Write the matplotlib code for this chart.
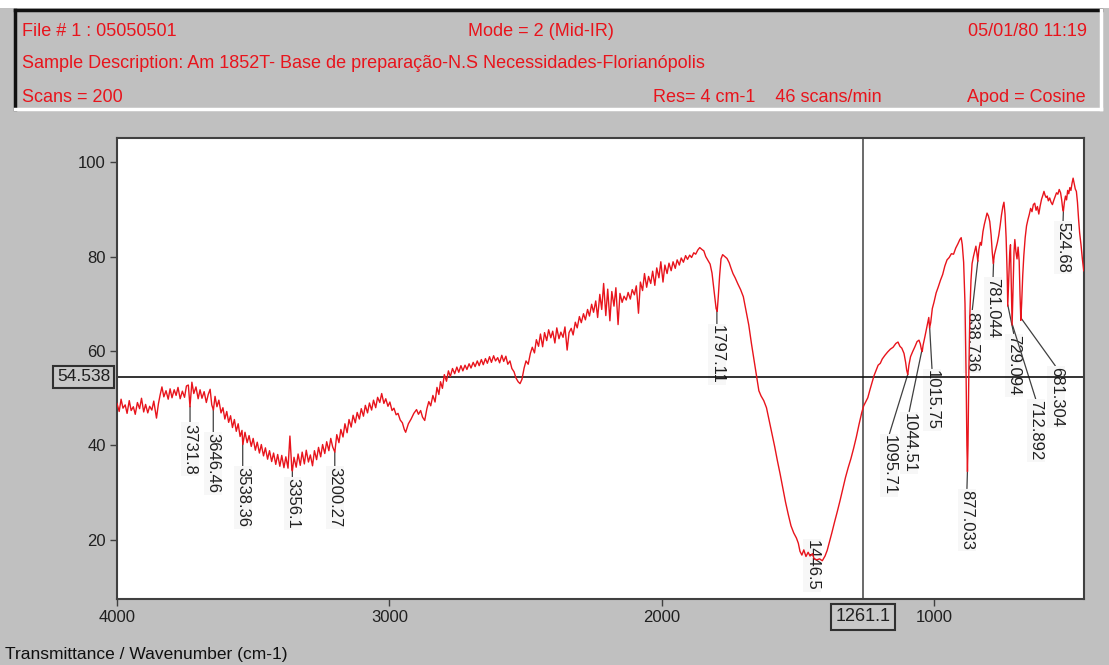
import numpy as np
import matplotlib
matplotlib.use("Agg")
import matplotlib.pyplot as plt
from matplotlib.patches import Rectangle
from matplotlib.lines import Line2D

#==========================================================#
# data                                #
#==========================================================#

wavenumber = [
    4000, 3992, 3985, 3978, 3970, 3963, 3955, 3948, 3940, 3933, 3925, 3917, 3910, 3902, 3895, 3887,
    3880, 3872, 3865, 3855, 3848, 3842, 3835, 3828, 3820, 3812, 3805, 3798, 3790, 3783, 3776, 3768,
    3760, 3752, 3745, 3738, 3732, 3725, 3718, 3710, 3702, 3695, 3688, 3680, 3672, 3665, 3658, 3652,
    3646, 3640, 3633, 3626, 3618, 3611, 3604, 3597, 3590, 3583, 3576, 3569, 3562, 3555, 3548, 3541,
    3538, 3530, 3522, 3515, 3507, 3500, 3492, 3485, 3477, 3470, 3462, 3455, 3447, 3440, 3432, 3425,
    3417, 3410, 3402, 3395, 3387, 3380, 3372, 3365, 3358, 3356, 3350, 3342, 3335, 3327, 3320, 3312,
    3305, 3297, 3290, 3282, 3275, 3267, 3260, 3252, 3245, 3237, 3230, 3222, 3215, 3208, 3200, 3193,
    3185, 3178, 3170, 3163, 3155, 3148, 3140, 3133, 3125, 3118, 3110, 3103, 3095, 3088, 3080, 3073,
    3065, 3058, 3050, 3043, 3035, 3028, 3020, 3013, 3005, 2998, 2990, 2983, 2975, 2968, 2960, 2952,
    2945, 2940, 2930, 2920, 2910, 2900, 2893, 2885, 2878, 2870, 2862, 2855, 2848, 2840, 2832, 2825,
    2818, 2812, 2805, 2798, 2790, 2783, 2776, 2768, 2760, 2752, 2745, 2737, 2730, 2722, 2715, 2707,
    2700, 2692, 2685, 2677, 2670, 2662, 2655, 2647, 2640, 2632, 2625, 2617, 2610, 2602, 2595, 2587,
    2580, 2572, 2565, 2557, 2550, 2542, 2535, 2527, 2520, 2513, 2505, 2498, 2490, 2482, 2475, 2467,
    2460, 2452, 2445, 2437, 2430, 2422, 2415, 2407, 2400, 2392, 2385, 2377, 2370, 2362, 2355, 2347,
    2340, 2332, 2325, 2317, 2310, 2302, 2295, 2287, 2280, 2272, 2265, 2257, 2250, 2242, 2235, 2227,
    2220, 2213, 2205, 2198, 2190, 2183, 2175, 2168, 2160, 2153, 2145, 2138, 2130, 2123, 2115, 2108,
    2100, 2093, 2085, 2078, 2070, 2063, 2055, 2048, 2040, 2033, 2025, 2018, 2010, 2003, 1995, 1988,
    1980, 1973, 1965, 1958, 1950, 1943, 1935, 1928, 1920, 1912, 1905, 1897, 1890, 1882, 1875, 1867,
    1860, 1852, 1845, 1838, 1830, 1822, 1815, 1808, 1800, 1796, 1792, 1787, 1782, 1776, 1768, 1760,
    1752, 1745, 1738, 1730, 1720, 1710, 1700, 1690, 1680, 1670, 1660, 1650, 1643, 1635, 1625, 1615,
    1605, 1595, 1585, 1575, 1565, 1555, 1545, 1535, 1525, 1515, 1505, 1498, 1492, 1485, 1478, 1470,
    1462, 1455, 1446, 1440, 1430, 1420, 1410, 1400, 1392, 1385, 1375, 1365, 1355, 1345, 1335, 1325,
    1315, 1305, 1295, 1285, 1275, 1265, 1258, 1250, 1243, 1235, 1227, 1220, 1212, 1205, 1197, 1190,
    1180, 1170, 1160, 1150, 1140, 1132, 1125, 1118, 1110, 1104, 1100, 1096, 1092, 1086, 1078, 1070,
    1062, 1055, 1050, 1046, 1043, 1040, 1033, 1025, 1019, 1016, 1012, 1006, 1000, 992, 984, 976,
    968, 960, 952, 944, 936, 928, 920, 912, 905, 900, 896, 891, 886, 882, 879, 877,
    875, 872, 868, 864, 860, 855, 850, 846, 842, 839, 835, 830, 826, 820, 815, 810,
    805, 800, 795, 790, 786, 782, 778, 772, 767, 762, 757, 752, 747, 743, 739, 735,
    731, 729, 726, 722, 719, 716, 713, 710, 706, 703, 699, 695, 691, 687, 684, 681,
    678, 674, 670, 665, 660, 655, 650, 645, 640, 635, 630, 625, 620, 615, 610, 605,
    600, 596, 592, 588, 584, 580, 575, 570, 565, 560, 555, 550, 545, 540, 535, 531,
    527, 524.7, 521, 517, 513, 509, 505, 501, 497, 493, 489, 485, 481, 477, 473, 469,
    465, 460, 455, 450,
]

transmittance = [
    48.9, 47.2, 49.8, 47.9, 48.6, 46.8, 49.5, 47.4, 48.2, 46.6, 49.1, 47.8, 50.0, 47.1, 48.7, 46.9,
    48.3, 47.5, 49.4, 45.8, 48.8, 50.6, 52.4, 50.3, 51.6, 49.8, 52.0, 50.1, 51.8, 50.6, 52.3, 49.9,
    51.5, 50.2, 52.6, 52.8, 48.2, 53.4, 51.0, 52.4, 49.9, 51.8, 50.0, 51.4, 49.1, 50.8, 51.9, 48.6,
    47.5, 50.4, 48.2, 49.6, 46.9, 48.0, 45.6, 47.2, 44.9, 46.3, 43.8, 45.5, 43.0, 44.6, 41.9, 43.2,
    40.2, 42.8, 40.6, 42.1, 39.8, 41.5, 39.0, 40.7, 38.4, 40.2, 37.8, 39.5, 37.1, 38.9, 36.6, 38.4,
    36.0, 38.1, 35.6, 37.9, 35.3, 37.6, 35.2, 42.0, 35.0, 34.6, 37.5, 35.4, 38.2, 35.8, 38.6, 36.1,
    39.0, 36.5, 38.0, 35.7, 38.9, 37.0, 39.6, 37.6, 40.2, 38.3, 40.8, 38.9, 41.5, 39.7, 38.6, 42.3,
    40.6, 43.4, 41.8, 44.6, 42.7, 45.5, 43.9, 46.4, 44.8, 47.0, 45.6, 47.8, 46.2, 48.5, 46.9, 49.0,
    47.5, 49.6, 48.0, 50.2, 49.1, 51.0, 48.9, 49.9, 48.3, 49.2, 47.4, 47.9, 46.5, 46.8, 45.4, 44.8,
    43.4, 42.8, 44.6, 45.6, 46.8, 47.6, 46.6, 47.4, 46.0, 45.3, 47.8, 49.3, 48.4, 50.6, 49.2, 52.3,
    50.8, 53.5, 52.1, 55.0, 53.6, 55.8, 54.6, 56.3, 55.2, 56.6, 55.5, 56.9, 55.8, 57.0, 56.1, 57.3,
    56.4, 57.6, 56.7, 57.9, 56.9, 58.2, 57.1, 58.4, 57.4, 58.8, 57.6, 59.0, 57.9, 58.6, 57.5, 59.1,
    57.8, 58.9, 57.2, 57.9, 56.3, 55.6, 54.3, 53.5, 53.1, 54.0, 56.4, 57.9, 57.2, 59.5, 60.8, 59.6,
    62.4, 61.0, 63.6, 60.9, 63.9, 62.2, 64.5, 62.8, 64.2, 61.7, 64.9, 62.6, 64.0, 62.9, 65.1, 60.2,
    63.9, 64.8, 63.4, 66.1, 64.9, 67.3, 66.0, 67.9, 66.6, 68.8, 67.4, 69.9, 68.2, 70.6, 67.1, 72.0,
    68.8, 74.3, 67.5, 73.1, 66.4, 72.6, 69.5, 73.4, 65.6, 72.2, 70.3, 71.6, 70.8, 72.4, 71.0, 73.0,
    71.9, 73.8, 68.0, 74.6, 72.8, 76.4, 73.5, 75.8, 74.3, 76.9, 73.9, 77.6, 75.5, 78.9, 74.6, 78.2,
    76.4, 78.6, 77.0, 78.9, 77.5, 79.3, 78.2, 79.7, 78.8, 80.2, 79.4, 80.3, 79.8, 80.8, 80.5, 81.4,
    81.9, 81.5, 81.2, 80.0, 79.2, 78.4, 76.5, 73.0, 69.0, 68.4, 71.5, 76.0, 79.5, 80.4, 80.0, 79.6,
    78.7, 77.5, 76.4, 75.5, 74.2, 73.0, 71.5, 68.5, 65.5, 61.5, 57.8, 54.0, 51.6, 50.5, 49.5, 48.0,
    45.3, 42.5, 39.8, 36.8, 34.0, 31.0, 28.0, 25.4, 23.0, 21.5, 20.4, 19.3, 17.6, 16.8, 17.9, 16.5,
    17.4, 16.6, 17.1, 16.0, 15.8, 16.0, 15.6, 16.6, 17.8, 19.3, 21.5, 23.8, 26.0, 28.3, 30.8, 33.2,
    35.3, 37.2, 39.4, 41.8, 44.5, 47.0, 48.4, 49.3, 50.1, 51.8, 53.4, 54.8, 56.0, 57.0, 57.4, 58.3,
    59.1, 59.8, 60.4, 60.8, 61.6, 61.9, 61.0, 60.6, 59.5, 57.6, 55.9, 55.0, 57.0, 58.8, 59.9, 60.9,
    62.0, 62.3, 61.5, 60.3, 59.9, 61.2, 63.1, 65.4, 67.1, 64.9, 66.0, 69.0, 70.3, 72.3, 73.6, 75.0,
    76.2, 78.0, 79.3, 79.8, 80.6, 80.5, 81.8, 82.7, 83.6, 84.0, 82.5, 78.8, 70.0, 55.0, 40.0, 34.5,
    40.0, 55.0, 68.0, 75.0, 78.5, 80.0, 81.2, 82.2, 80.6, 79.0, 81.5, 83.0, 82.4, 85.3, 86.8, 88.0,
    89.2, 88.6, 87.4, 84.5, 81.0, 78.5, 80.4, 81.8, 83.0, 84.5, 86.5, 88.8, 90.6, 91.5, 89.0, 84.0,
    76.0, 69.5, 74.0, 80.5, 82.5, 74.5, 65.5, 72.0, 81.0, 83.6, 81.0, 79.5, 82.0, 79.0, 72.0, 66.5,
    70.0, 76.0, 80.2, 84.0, 86.5, 87.8, 88.9, 90.2, 89.5, 91.0, 91.3, 89.8, 90.6, 89.0, 90.7, 92.1,
    93.0, 93.8, 93.0, 92.5, 92.8, 91.8, 92.4, 91.5, 91.0, 91.9, 92.7, 93.5, 93.2, 94.2, 93.5, 92.0,
    90.0, 89.6, 91.5, 92.8, 92.0, 94.0, 93.3, 94.6, 94.0, 95.5, 96.6, 95.4, 94.3, 93.8, 91.5, 88.0,
    85.0, 82.5, 79.5, 77.0,
]

# peak picks
peak_labels = ['3731.8', '3646.46', '3538.36', '3356.1', '3200.27', '1797.11', '1446.5',
               '1095.71', '1044.51', '1015.75', '877.033', '838.736', '781.044',
               '729.094', '712.892', '681.304', '524.68']
peak_wn = [3731.8, 3646.46, 3538.36, 3356.1, 3200.27, 1797.11, 1446.5,
           1095.71, 1044.51, 1015.75, 877.033, 838.736, 781.044,
           729.094, 712.892, 681.304, 524.68]

x_ticks = [4000, 3000, 2000, 1000]
y_ticks = [20, 40, 60, 80, 100]

cursor_x = 1261.1
cursor_y = 54.538

header_left = ['File # 1 : 05050501',
               'Sample Description: Am 1852T- Base de preparação-N.S Necessidades-Florianópolis',
               'Scans = 200']
header_mid = ['Mode = 2 (Mid-IR)', 'Res= 4 cm-1    46 scans/min']
header_right = ['05/01/80 11:19', 'Apod = Cosine']
footer = 'Transmittance / Wavenumber (cm-1)'

#==========================================================#
# layout (pixels of the 1109x665 canvas)                    #
#==========================================================#

W, H = 1109, 665
GRAY = '#c0c0c0'
RED = '#e8141c'
plt.rcParams['font.family'] = ['Liberation Sans', 'DejaVu Sans']

# where each label's text sits: (wavenumber of centre, T value of top)
label_pos = [(3731.8, 44.6), (3646.46, 42.6), (3538.36, 35.4), (3356.1, 33.1), (3200.27, 35.4),
             (1797.11, 65.5), (1448, 20.0), (1165, 42.2), (1092, 46.9), (1007, 56.0),
             (879, 30.6), (860, 68.3), (783, 75.4), (706, 63.4), (625, 49.6),
             (551, 56.6), (526, 87.3)]


def fx(px):
    return px / W


def fy(py):
    return 1 - py / H


fig = plt.figure(figsize=(W / 100, H / 100), dpi=100, facecolor=GRAY)

# white strip on top + bevelled header box
fig.add_artist(Rectangle((0, fy(8)), 1, 8 / H, transform=fig.transFigure, fc='white', ec='none'))
fig.add_artist(Line2D([fx(15), fx(1101)], [fy(10), fy(10)], transform=fig.transFigure, color='#101010', lw=2.5))
fig.add_artist(Line2D([fx(15), fx(15)], [fy(10), fy(109)], transform=fig.transFigure, color='#101010', lw=2.5))
fig.add_artist(Line2D([fx(15), fx(1101)], [fy(109), fy(109)], transform=fig.transFigure, color='white', lw=2.5))
fig.add_artist(Line2D([fx(1101), fx(1101)], [fy(10), fy(109)], transform=fig.transFigure, color='white', lw=2.5))

rows = [32, 63, 97]
for txt, py in zip(header_left, rows):
    fig.text(fx(22), fy(py), txt, color=RED, fontsize=13, ha='left', va='center')
fig.text(fx(468), fy(rows[0]), header_mid[0], color=RED, fontsize=13, ha='left', va='center')
fig.text(fx(653), fy(rows[2]), header_mid[1], color=RED, fontsize=13, ha='left', va='center')
fig.text(fx(1087), fy(rows[0]), header_right[0], color=RED, fontsize=13, ha='right', va='center')
fig.text(fx(1086), fy(rows[2]), header_right[1], color=RED, fontsize=13, ha='right', va='center')

fig.text(fx(5), fy(655), footer, color='#101010', fontsize=12.5, ha='left', va='center')

# plot area
ax = fig.add_axes([fx(117), fy(599), (1084 - 117) / W, (599 - 138) / H])
ax.set_facecolor('white')
ax.plot(wavenumber, transmittance, color=RED, lw=1.0, zorder=3)
ax.set_xlim(4000, 449)
ax.set_ylim(7.5, 105.1)
ax.set_xticks(x_ticks)
ax.set_yticks(y_ticks)
ax.tick_params(direction='out', length=5, width=1, colors='#404040', labelsize=12,
               labelcolor='#202020', pad=3)
for s in ax.spines.values():
    s.set_color('#404040')
    s.set_linewidth(1.5)

# cursor
ax.axvline(cursor_x, color='#505050', lw=1.2, zorder=2.5)
ax.axhline(cursor_y, color='#101010', lw=1.2, zorder=2.5)
ax.text(-0.007, cursor_y, f'{cursor_y:.3f}', transform=ax.get_yaxis_transform(), ha='right', va='center',
        fontsize=12.5, color='#202020',
        bbox=dict(boxstyle='square,pad=0.22', fc='#c8c8c8', ec='#303030', lw=1.5))
ax.text(cursor_x, -0.039, f'{cursor_x:.1f}', transform=ax.get_xaxis_transform(), ha='center', va='center',
        fontsize=13, color='#202020', clip_on=False,
        bbox=dict(boxstyle='square,pad=0.25', fc='#c8c8c8', ec='#303030', lw=1.5))

# peak labels with leader lines (drawn under the spectrum)
wn_sorted = np.array(wavenumber[::-1])
tr_sorted = np.array(transmittance[::-1])
for lab, wn, (tx, ty) in zip(peak_labels, peak_wn, label_pos):
    yv = np.interp(wn, wn_sorted, tr_sorted)
    ax.annotate(lab, xy=(wn, yv), xytext=(tx, ty), textcoords='data', rotation=270,
                ha='center', va='top', fontsize=12, color='#202020', zorder=2,
                bbox=dict(boxstyle='square,pad=0.08', fc='#f7f7f7', ec='none'),
                arrowprops=dict(arrowstyle='-', color='#404040', lw=0.9, shrinkA=0, shrinkB=0,
                                relpos=(0.5, 1.0)))

fig.savefig('out.png', dpi=100, facecolor=GRAY)
